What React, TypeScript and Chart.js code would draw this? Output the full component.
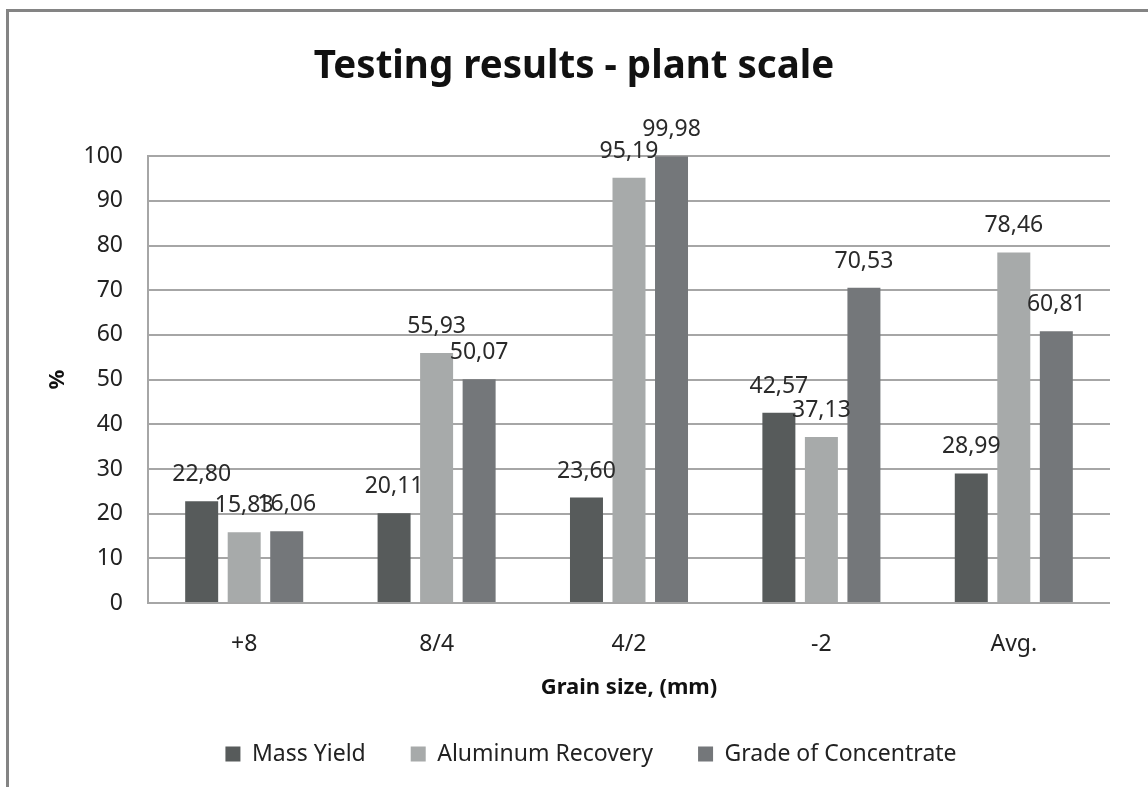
import React, { useEffect, useRef } from "react";
import { Chart, registerables } from "chart.js";

Chart.register(...registerables);

const categories = ["+8", "8/4", "4/2", "-2", "Avg."];
const massYield = [22.8, 20.11, 23.6, 42.57, 28.99];
const aluminumRecovery = [15.83, 55.93, 95.19, 37.13, 78.46];
const gradeOfConcentrate = [16.06, 50.07, 99.98, 70.53, 60.81];
const seriesNames = ["Mass Yield", "Aluminum Recovery", "Grade of Concentrate"];
const seriesColors = ["#575b5b", "#a7aaaa", "#74777a"];
const yTicks = [0, 10, 20, 30, 40, 50, 60, 70, 80, 90, 100];

const FONT = "'Noto Sans', 'Open Sans', sans-serif";

const valueLabels = {
  id: "valueLabels",
  afterDatasetsDraw(chart: any) {
    const ctx = chart.ctx;
    ctx.save();
    ctx.font = `23px ${FONT}`;
    ctx.fillStyle = "#2a2a2a";
    ctx.textAlign = "center";
    ctx.textBaseline = "alphabetic";
    chart.data.datasets.forEach((ds: any, di: number) => {
      const meta = chart.getDatasetMeta(di);
      meta.data.forEach((bar: any, i: number) => {
        const v = ds.data[i] as number;
        const txt = v.toFixed(2).replace(".", ",");
        ctx.fillText(txt, bar.x, bar.y - 20);
      });
    });
    ctx.restore();
  },
};

const shiftBoxes = {
  id: "shiftBoxes",
  afterLayout(chart: any) {
    const lg = chart.legend;
    if (lg) {
      lg.left += 36;
      lg.right += 36;
    }
    const tb = chart.titleBlock;
    if (tb) {
      tb.left += 19;
      tb.right += 19;
    }
  },
};

export default function App() {
  const ref = useRef<HTMLCanvasElement | null>(null);
  useEffect(() => {
    if (!ref.current) return;
    const data = [massYield, aluminumRecovery, gradeOfConcentrate];
    const chart = new Chart(ref.current, {
      type: "bar",
      data: {
        labels: categories,
        datasets: seriesNames.map((name, i) => ({
          label: name,
          data: data[i],
          backgroundColor: seriesColors[i],
          borderWidth: 0,
          categoryPercentage: 0.663,
          barPercentage: 0.776,
        })),
      },
      options: {
        animation: false,
        responsive: false,
        devicePixelRatio: 1,
        layout: { padding: { left: 0, right: 38, top: 0, bottom: 11.5 } },
        plugins: {
          title: {
            display: true,
            text: "Testing results - plant scale",
            color: "#111",
            font: { family: FONT, size: 38.5, weight: "bold" },
            padding: { top: 44, bottom: 66 },
          },
          legend: {
            position: "bottom",
            labels: {
              color: "#222",
              font: { family: FONT, size: 23 },
              boxWidth: 15,
              boxHeight: 15,
              padding: 45,
            },
          },
          tooltip: { enabled: false },
        },
        scales: {
          x: {
            grid: { display: false, drawTicks: false },
            border: { display: false },
            ticks: {
              color: "#222",
              font: { family: FONT, size: 23 },
              padding: 28,
            },
            title: {
              display: true,
              text: "Grain size, (mm)",
              color: "#111",
              font: { family: FONT, size: 22, weight: "bold" },
              padding: { top: 0, bottom: -3.7 },
            },
            afterFit(axis: any) {
              axis.height = 94.5;
            },
          },
          y: {
            min: 0,
            max: 100,
            afterBuildTicks(axis: any) {
              axis.ticks = yTicks.map((v) => ({ value: v }));
            },
            grid: { color: "#a6a6a6", lineWidth: 2, drawTicks: false },
            border: { display: true, color: "#a6a6a6", width: 2 },
            ticks: {
              color: "#222",
              font: { family: FONT, size: 23 },
              padding: 25,
            },
            title: {
              display: true,
              text: "%",
              color: "#111",
              font: { family: FONT, size: 22, weight: "bold" },
              padding: { top: 45, bottom: 0 },
            },
            afterFit(axis: any) {
              axis.width = 148;
            },
          },
        },
      },
      plugins: [valueLabels, shiftBoxes],
    });
    return () => chart.destroy();
  }, []);

  return (
    <div
      style={{
        position: "fixed",
        left: 0,
        top: 0,
        width: 1148,
        height: 787,
        overflow: "hidden",
        background: "#fff",
      }}
    >
      <canvas
        ref={ref}
        width={1148}
        height={787}
        style={{ position: "absolute", left: 0, top: 0, width: 1148, height: 787 }}
      />
      <div
        style={{
          position: "absolute",
          left: 6,
          top: 9,
          width: 1400,
          height: 1000,
          border: "3px solid #848484",
          pointerEvents: "none",
        }}
      />
    </div>
  );
}
